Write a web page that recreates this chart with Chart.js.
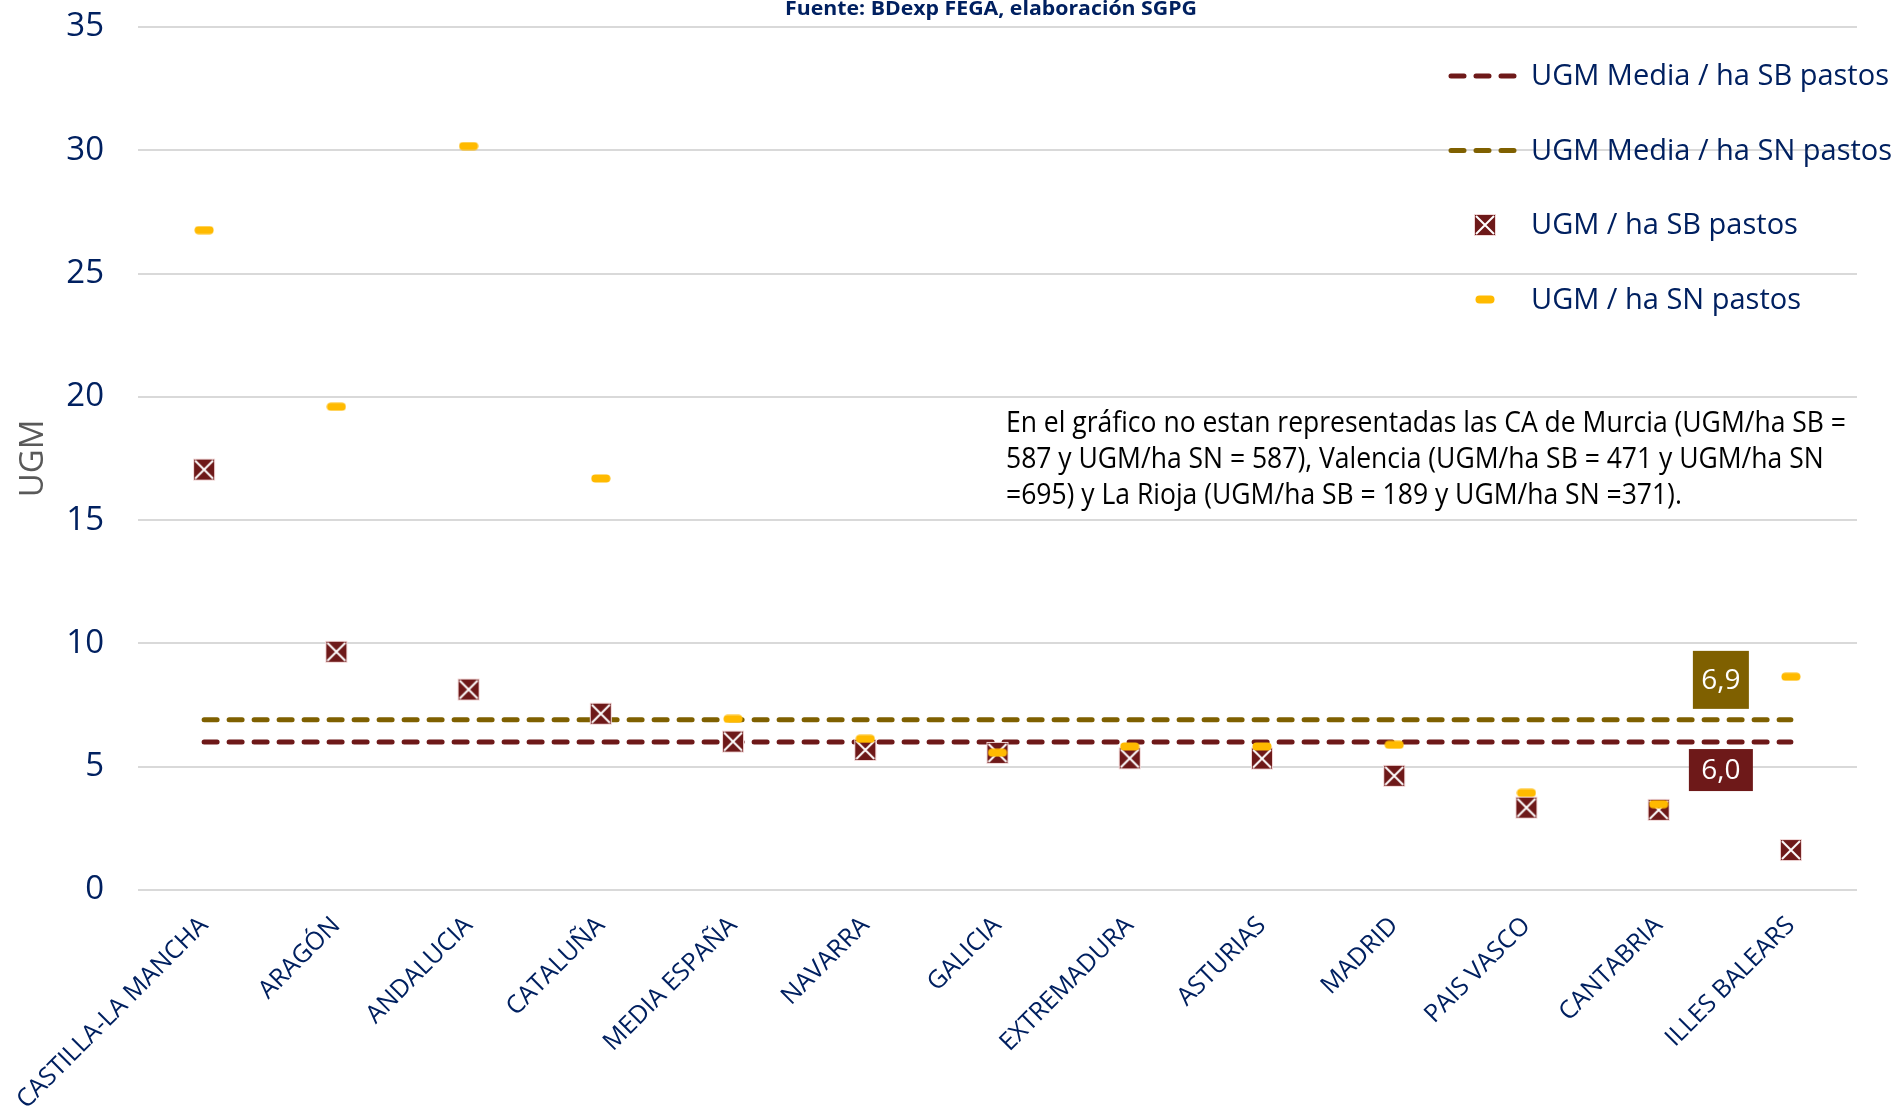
<!DOCTYPE html>
<html>
<head>
<meta charset="utf-8">
<script src="https://cdn.jsdelivr.net/npm/chart.js@4.4.0/dist/chart.umd.min.js"></script>
<style>
    html, body { margin: 0; padding: 0; background: #ffffff; }
    canvas { display: block; }
</style>
</head>
<body>
<canvas id="ugmChart" width="1899" height="1107"></canvas>
<script>

// Datos
const regiones = ['CASTILLA-LA MANCHA', 'ARAGÓN', 'ANDALUCIA', 'CATALUÑA', 'MEDIA ESPAÑA', 'NAVARRA', 'GALICIA',
    'EXTREMADURA', 'ASTURIAS', 'MADRID', 'PAIS VASCO', 'CANTABRIA', 'ILLES BALEARS'];
const ugmSB = [17.05, 9.66, 8.13, 7.15, 6.02, 5.68, 5.56, 5.34, 5.33, 4.63, 3.34, 3.25, 1.62];
const ugmSN = [26.76, 19.6, 30.17, 16.69, 6.94, 6.13, 5.57, 5.82, 5.82, 5.89, 3.94, 3.48, 8.65];
const mediaSB = [6.0, 6.0, 6.0, 6.0, 6.0, 6.0, 6.0, 6.0, 6.0, 6.0, 6.0, 6.0, 6.0];
const mediaSN = [6.9, 6.9, 6.9, 6.9, 6.9, 6.9, 6.9, 6.9, 6.9, 6.9, 6.9, 6.9, 6.9];
const yMin = 0, yMax = 35, yStep = 5;

const tituloFuente = 'Fuente: BDexp FEGA, elaboración SGPG';
const notaLineas = [
    'En el gráfico no estan representadas las CA de Murcia (UGM/ha SB =',
    '587 y UGM/ha SN = 587), Valencia (UGM/ha SB = 471 y UGM/ha SN',
    '=695) y La Rioja (UGM/ha SB = 189 y UGM/ha SN =371).'
];

const navy = '#002060';
const granate = '#6E1919';
const oliva = '#7F6000';
const amarillo = '#FFBA00';
const fuente = '"Open Sans", "Noto Sans", sans-serif';

//Marker images
function markerSB() {
    const c = document.createElement('canvas');
    c.width = 24; c.height = 24;
    const g = c.getContext('2d');
    g.fillStyle = granate;
    g.fillRect(1, 1, 22, 22);
    g.strokeStyle = 'rgba(255,235,235,0.9)';
    g.lineWidth = 1;
    g.strokeRect(1.5, 1.5, 21, 21);
    g.strokeStyle = '#ffffff';
    g.lineWidth = 2;
    g.beginPath();
    g.moveTo(3, 3); g.lineTo(21, 21);
    g.moveTo(21, 3); g.lineTo(3, 21);
    g.stroke();
    return c;
}
function markerSN() {
    const c = document.createElement('canvas');
    c.width = 20; c.height = 9;
    const g = c.getContext('2d');
    g.fillStyle = amarillo;
    g.beginPath();
    g.roundRect(0.5, 0.5, 19, 8, 4);
    g.fill();
    return c;
}
const imgSB = markerSB();
const imgSN = markerSN();

function textoAjustado(ctx, text, x, y, escala) {
    ctx.save();
    ctx.translate(x, y);
    ctx.scale(escala, 1);
    ctx.fillText(text, 0, 0);
    ctx.restore();
}

// Etiquetas de las medias, leyenda, nota y fuente
const decoraciones = {
    id: 'decoraciones',
    afterDatasetsDraw(chart) {
        const ctx = chart.ctx;
        const cajas = [
            { ds: 2, dy: -40, w: 56, h: 58, color: oliva },
            { ds: 3, dy: 28, w: 64, h: 42, color: granate }
        ];
        cajas.forEach(c => {
            const meta = chart.getDatasetMeta(c.ds);
            const pt = meta.data[meta.data.length - 1];
            const valor = chart.data.datasets[c.ds].data[meta.data.length - 1];
            const cx = pt.x - 70, cy = pt.y + c.dy;
            ctx.save();
            ctx.fillStyle = c.color;
            ctx.fillRect(cx - c.w / 2, cy - c.h / 2, c.w, c.h);
            ctx.fillStyle = '#ffffff';
            ctx.font = '28px ' + fuente;
            ctx.textAlign = 'center';
            ctx.textBaseline = 'middle';
            ctx.fillText(valor.toFixed(1).replace('.', ','), cx, cy + 1);
            ctx.restore();
        });
    },
    afterDraw(chart) {
        const ctx = chart.ctx;

        // titulo
        ctx.save();
        ctx.fillStyle = navy;
        ctx.font = 'bold 19px ' + fuente;
        ctx.textBaseline = 'middle';
        const wt = ctx.measureText(tituloFuente).width;
        textoAjustado(ctx, tituloFuente, 785, 10, 412 / wt);
        ctx.restore();

        // leyenda
        const orden = [3, 2, 1, 0];
        ctx.save();
        ctx.font = '29px ' + fuente;
        ctx.textBaseline = 'middle';
        orden.forEach((i, k) => {
            const ds = chart.data.datasets[i];
            const y = 76 + k * 74.5;
            if (ds.showLine === false) {
                const img = ds.pointStyle;
                ctx.drawImage(img, 1485 - img.width / 2, y - img.height / 2);
            } else {
                ctx.save();
                ctx.strokeStyle = ds.borderColor;
                ctx.lineWidth = ds.borderWidth;
                ctx.lineCap = 'round';
                ctx.setLineDash(ds.borderDash);
                ctx.beginPath();
                ctx.moveTo(1451, y);
                ctx.lineTo(1515, y);
                ctx.stroke();
                ctx.restore();
            }
            ctx.fillStyle = navy;
            ctx.fillText(ds.label, 1531, y + 1);
        });
        ctx.restore();

        // nota
        ctx.save();
        ctx.fillStyle = '#000000';
        ctx.font = '29px ' + fuente;
        ctx.textBaseline = 'middle';
        const en = 840 / ctx.measureText(notaLineas[0]).width;
        notaLineas.forEach((l, k) => textoAjustado(ctx, l, 1006, 424 + k * 35.7, en));
        ctx.restore();
    }
};

new Chart(
    document.getElementById('ugmChart'),
    {
        type: 'line',
        data: {
            labels: regiones,
            datasets: [
                {
                    label: 'UGM / ha SN pastos',
                    data: ugmSN,
                    showLine: false,
                    pointStyle: imgSN,
                    pointRadius: 10,
                    borderColor: amarillo,
                    backgroundColor: amarillo,
                    order: 0
                },
                {
                    label: 'UGM / ha SB pastos',
                    data: ugmSB,
                    showLine: false,
                    pointStyle: imgSB,
                    pointRadius: 12,
                    borderColor: granate,
                    backgroundColor: granate,
                    order: 1
                },
                {
                    label: 'UGM Media / ha SN pastos',
                    data: mediaSN,
                    borderColor: oliva,
                    borderWidth: 5,
                    borderDash: [13, 12],
                    borderCapStyle: 'round',
                    pointRadius: 0,
                    fill: false,
                    order: 2
                },
                {
                    label: 'UGM Media / ha SB pastos',
                    data: mediaSB,
                    borderColor: granate,
                    borderWidth: 5,
                    borderDash: [13, 12],
                    borderCapStyle: 'round',
                    pointRadius: 0,
                    fill: false,
                    order: 3
                }
            ]
        },
        options: {
            responsive: false,
            animation: false,
            events: [],
            layout: { autoPadding: false, padding: { top: 27, right: 42, left: 0, bottom: 0 } },
            plugins: {
                legend: { display: false },
                title: { display: false },
                tooltip: { enabled: false }
            },
            scales: {
                x: {
                    offset: true,
                    grid: { display: false },
                    border: { display: false },
                    ticks: {
                        color: navy,
                        font: { family: fuente, size: 25 },
                        minRotation: 45,
                        maxRotation: 45,
                        padding: 13,
                        autoSkip: false
                    },
                    afterFit(scale) {
                        scale.height = 217;
                        scale.paddingLeft = 0;
                        scale.paddingRight = 0;
                    }
                },
                y: {
                    min: yMin,
                    max: yMax,
                    ticks: {
                        stepSize: yStep,
                        color: navy,
                        font: { family: fuente, size: 33 },
                        padding: 34
                    },
                    grid: { color: '#D9D9D9', lineWidth: 2, drawTicks: false },
                    border: { display: false },
                    title: {
                        display: true,
                        text: 'UGM',
                        color: '#595959',
                        font: { family: fuente, size: 33 },
                        padding: { top: 14, bottom: 0 }
                    },
                    afterFit(scale) {
                        scale.width = 138;
                        scale.paddingTop = 0;
                        scale.paddingBottom = 0;
                    }
                }
            }
        },
        plugins: [decoraciones]
    }
);
</script>
</body>
</html>
